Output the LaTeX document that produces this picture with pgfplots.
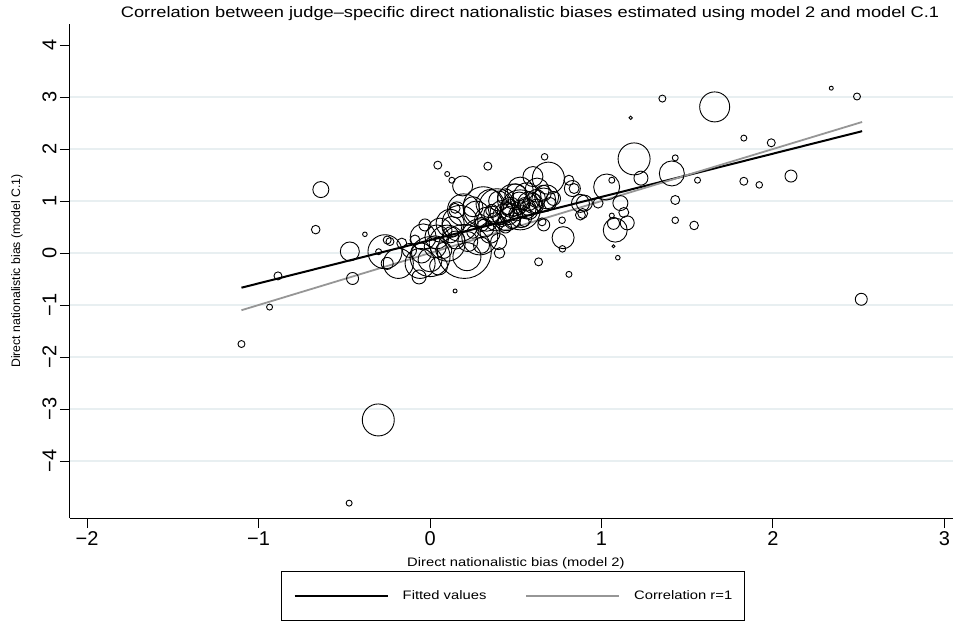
\documentclass[border=0pt]{standalone}
\usepackage{fontspec}
\setmainfont{Liberation Sans}
\usepackage{graphicx}
\usepackage{pgfplots}
\usepackage{pgfplotstable}
\pgfplotsset{compat=1.18}
\definecolor{gridc}{RGB}{232,239,241}
\definecolor{corrgray}{RGB}{150,150,150}
% Stata text looks a bit wide: stretch horizontal texts
\newcommand{\wide}[1]{\scalebox{1.2}[1]{#1}}

% judge-specific biases: x = model 2, y = model C.1, r = marker radius (weight)
\pgfplotstableread{
x y r
2.34 3.17 2
2.49 3.01 3.5
1.355 2.97 3.5
1.17 2.60 1.7
1.66 2.81 15
1.83 2.21 3
1.99 2.12 4
1.19 1.81 16
1.43 1.83 3
1.23 1.44 7
1.41 1.53 12.5
1.56 1.40 3
1.83 1.38 4
1.92 1.31 3.3
2.105 1.48 6
1.03 1.27 13
1.06 1.40 3
0.90 0.96 8
0.98 0.96 5
1.11 0.96 7.5
1.13 0.78 5
1.15 0.58 7
1.07 0.57 6
1.08 0.44 12
1.06 0.72 2.5
1.07 0.13 1.5
1.095 -0.09 2.3
1.43 1.02 4.5
1.43 0.63 3.3
1.54 0.53 4.3
2.515 -0.89 6
0.89 0.76 5
0.045 1.69 4
0.10 1.52 2.5
0.127 1.40 3
0.19 1.29 10
-0.637 1.22 8
-0.667 0.45 4.3
-0.38 0.36 2.3
-0.468 0.03 9.5
-0.452 -0.49 6
-0.887 -0.44 4
-0.936 -1.04 3
-1.10 -1.75 3.5
0.146 -0.73 2
-0.302 -3.21 16
-0.472 -4.81 3
-0.263 0.025 17
-0.185 -0.2 15
-0.25 0.25 4
-0.234 0.22 4
-0.30 0.025 3
-0.25 -0.2 6
-0.165 0.19 5
-0.064 -0.46 7
-0.03 0.54 6
-0.05 0 10
0 -0.13 12
-0.088 0.25 5
0.04 0.31 12
0.127 0.51 10
0.146 0.86 5
0.25 0.89 10
0.337 1.67 4
0.668 1.85 3.3
0.69 1.44 16
0.60 1.47 10
0.81 1.40 5
0.84 1.24 5
0.83 1.24 8
0.877 0.955 9
0.877 0.73 5
0.776 0.295 11
0.772 0.08 3.3
0.633 -0.17 4
0.81 -0.41 3
0.663 0.54 6
0.653 0.60 4
0.77 0.63 3.3
0.405 0 5.3
0.40 0.22 8
0.20 0.03 27
0.31 0.89 20
0.195 0.83 16
0.175 0.57 18
0.215 -0.07 14
0.10 0.19 18
0 -0.07 20
-0.058 -0.2 15
-0.04 0.31 13
0.058 0.44 12
0.117 0.57 14
0.39 0.89 18
0.487 1.02 16
0.526 0.83 20
0.448 0.70 14
0.565 1.08 14
0.624 1.21 12
0.68 1.08 12
0.526 1.21 13
0.60 0.955 10
0.663 1.02 12
0.35 0.38 10
0.29 0.31 18
0.156 0.83 8
0.45 0.85 6
0.50 0.75 7
0.42 0.60 5
0.36 0.75 8
0.55 0.95 6
0.30 0.55 7
0.25 0.40 6
0.47 0.95 5
0.58 0.80 8
0.52 1.00 9
0.40 1.00 10
0.33 0.65 12
0.44 0.50 6
0.62 0.90 7
0.70 0.95 6
0.08 0.05 8
0.15 0.25 9
-0.12 0.05 7
0.05 -0.25 9
0.30 0.15 8
0.55 0.60 5
0.48 0.62 8
0.35 0.95 14
0.42 0.78 12
0.47 0.88 10
0.53 0.70 11
0.58 0.95 12
0.62 1.05 9
0.38 0.60 9
0.27 0.75 13
0.44 1.08 8
0.50 1.12 11
0.66 1.15 8
0.72 1.05 7
0.32 0.48 9
0.22 0.22 10
0.12 0.35 8
0.03 0.12 11
0.36 0.82 6
0.52 0.88 7
0.46 0.72 9
0.56 0.85 10
}\judges

\begin{document}
\begin{tikzpicture}
\useasboundingbox (-70pt,-112pt) rectangle (883pt,518pt);
\begin{axis}[
  at={(0pt,0pt)}, anchor=south west,
  scale only axis, width=883pt, height=494pt,
  xmin=-2.10, xmax=3.05, ymin=-5.096, ymax=4.404,
  axis x line*=bottom, axis y line*=left,
  axis line style={line width=1pt},
  xtick={-2,...,3}, xticklabels={−2,−1,0,1,2,3},
  ytick={-4,...,4}, yticklabels={−4,−3,−2,−1,0,1,2,3,4},
  tick align=outside, major tick length=10pt,
  tick style={black, line width=1pt},
  ticklabel style={font=\fontsize{20}{24}\selectfont},
  yticklabel style={rotate=90, anchor=south},
  extra y ticks={-4,...,3}, extra y tick labels={},
  extra y tick style={grid=major, major tick length=0pt},
  grid style={gridc, line width=1.6pt},
  title={\wide{Correlation between judge–specific direct nationalistic biases estimated using model 2 and model C.1}},
  title style={at={(axis description cs:0.521,1.002)}, anchor=base, inner sep=0pt, font=\fontsize{15.2}{17}\selectfont},
  xlabel={\wide{Direct nationalistic bias (model 2)}},
  xlabel style={at={(axis description cs:0.505,-0.0911)}, anchor=center, font=\fontsize{12.3}{14}\selectfont},
  ylabel={Direct nationalistic bias (model C.1)},
  ylabel style={at={(axis description cs:-0.060,0.5)}, anchor=center, font=\fontsize{12.3}{14}\selectfont},
  legend columns=2,
  legend image code/.code={\draw[#1] (0pt,0pt) -- (93pt,0pt);},
  legend style={at={(axis description cs:0.5017,-0.1579)}, anchor=center,
    draw=black, line width=1pt, inner xsep=12.5pt, inner ysep=19pt,
    font=\fontsize{12.3}{14}\selectfont, nodes={inner sep=0pt},
    /tikz/every odd column/.append style={column sep=14pt},
    /tikz/every even column/.append style={column sep=39pt}},
]
\addplot[only marks, mark=o, line width=0.9pt, forget plot,
  scatter, point meta=\thisrow{r},
  scatter/use mapped color={draw=black},
  visualization depends on={\thisrow{r} \as \rad},
  scatter/@pre marker code/.append style={/tikz/mark size=\rad pt}]
  table[x=x, y=y] {\judges};
\addplot[black, line width=2pt] coordinates {(-1.10,-0.667) (2.52,2.343)};
\addlegendentry{\wide{Fitted values}}
\addplot[corrgray, line width=1.8pt] coordinates {(-1.10,-1.10) (2.52,2.52)};
\addlegendentry{\wide{Correlation r=1}}
\end{axis}
\end{tikzpicture}
\end{document}
